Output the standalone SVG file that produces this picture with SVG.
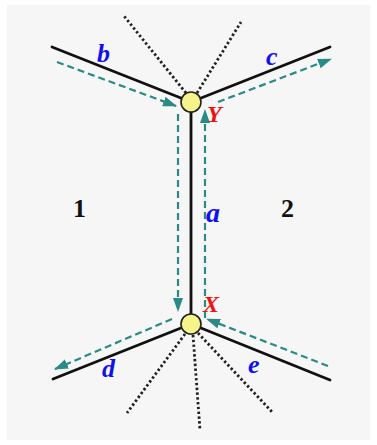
<svg xmlns="http://www.w3.org/2000/svg" width="377" height="445" viewBox="0 0 377 445">
<defs>
<style>
.edge{stroke:#111;stroke-width:2.8;fill:none;stroke-linecap:round}
.dot{stroke:#222;stroke-width:2.8;fill:none;stroke-dasharray:2.4 2.4}
.flow{stroke:#2a8a86;stroke-width:2.2;fill:none;stroke-dasharray:7 4}
.lbl{font-family:"Liberation Serif",serif;font-style:italic;font-weight:bold;fill:#1010ee}
.vx{font-family:"Liberation Serif",serif;font-style:italic;font-weight:bold;fill:#ee1111;font-size:24px}
.reg{font-family:"Liberation Serif",serif;font-weight:bold;fill:#111;font-size:26px}
.node{fill:#f4f48a;stroke:#222;stroke-width:1.6}
</style>
<marker id="ah" markerUnits="userSpaceOnUse" markerWidth="14" markerHeight="10" refX="13" refY="5" orient="auto">
<path d="M0,0 L14,5 L0,10 Z" fill="#2a8a86"/>
</marker>
</defs>
<rect width="377" height="445" fill="#ffffff"/>
<rect x="7" y="5" width="363" height="435" fill="#f6f6f6"/>
<g id="connectors">
<line class="edge" x1="52" y1="47" x2="191" y2="102"/>
<line class="edge" x1="191" y1="102" x2="330" y2="47"/>
<line class="edge" x1="191" y1="102" x2="191" y2="324"/>
<line class="edge" x1="191" y1="324" x2="53" y2="379"/>
<line class="edge" x1="191" y1="324" x2="330" y2="380"/>
<line class="dot" x1="186" y1="93" x2="124" y2="16"/>
<line class="dot" x1="197" y1="93" x2="241" y2="22"/>
<line class="dot" x1="185" y1="334" x2="127" y2="413"/>
<line class="dot" x1="193" y1="335" x2="200" y2="430"/>
<line class="dot" x1="198" y1="333" x2="273" y2="413"/>
<line class="flow" x1="57" y1="62" x2="176" y2="106" marker-end="url(#ah)"/>
<line class="flow" x1="178" y1="114" x2="178" y2="311" marker-end="url(#ah)"/>
<line class="flow" x1="172" y1="319" x2="55" y2="369" marker-end="url(#ah)"/>
<line class="flow" x1="328" y1="366" x2="207" y2="319" marker-end="url(#ah)"/>
<line class="flow" x1="205" y1="318" x2="205" y2="110" marker-end="url(#ah)"/>
<line class="flow" x1="218" y1="102" x2="331" y2="59" marker-end="url(#ah)"/>
</g>
<g id="nodeY"><circle class="node" cx="191" cy="102" r="10"/><text class="vx" x="207" y="122">Y</text></g>
<g id="nodeX"><circle class="node" cx="191" cy="324" r="10"/><text class="vx" x="203" y="312">X</text></g>
<g id="labels">
<text class="lbl" x="97" y="62" font-size="26">b</text>
<text class="lbl" x="266" y="65" font-size="26">c</text>
<text class="lbl" x="206" y="222" font-size="28">a</text>
<text class="lbl" x="102" y="377" font-size="26">d</text>
<text class="lbl" x="248" y="373" font-size="26">e</text>
<text class="reg" x="73" y="217">1</text>
<text class="reg" x="281" y="217">2</text>
</g>
</svg>
